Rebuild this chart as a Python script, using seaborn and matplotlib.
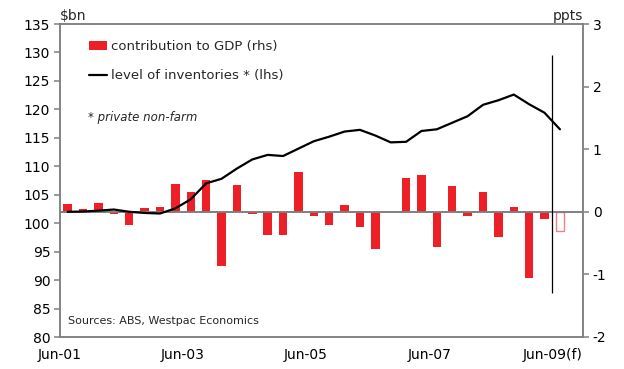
import numpy as np
import pandas as pd
import matplotlib
matplotlib.use("Agg")
import matplotlib.pyplot as plt
from matplotlib.patches import Patch
from matplotlib.lines import Line2D
import seaborn as sns

# Quarterly categories, Jun-01 .. Sep-09 (last slot left empty)
quarters = ["Jun-01", "Sep-01", "Dec-01", "Mar-02", "Jun-02", "Sep-02", "Dec-02", "Mar-03",
            "Jun-03", "Sep-03", "Dec-03", "Mar-04", "Jun-04", "Sep-04", "Dec-04", "Mar-05",
            "Jun-05", "Sep-05", "Dec-05", "Mar-06", "Jun-06", "Sep-06", "Dec-06", "Mar-07",
            "Jun-07", "Sep-07", "Dec-07", "Mar-08", "Jun-08", "Sep-08", "Dec-08", "Mar-09",
            "Jun-09", "Sep-09"]

# Contribution of inventories to GDP growth, ppts (rhs); last value is a forecast
contribution = [0.12, 0.04, 0.145, -0.035, -0.21, 0.06, 0.08, 0.44, 0.31, 0.50, -0.86,
                0.43, -0.04, -0.375, -0.375, 0.64, -0.06, -0.21, 0.11, -0.25, -0.60, 0.0,
                0.535, 0.59, -0.56, 0.42, -0.06, 0.32, -0.41, 0.08, -1.05, -0.11, -0.31]

# Level of private non-farm inventories, $bn (lhs)
inventories = [102.0, 102.05, 102.2, 102.4, 102.0, 101.8, 101.7, 102.6, 104.2, 107.0,
               107.8, 109.6, 111.2, 112.0, 111.8, 113.1, 114.4, 115.2, 116.1, 116.4,
               115.4, 114.2, 114.3, 116.2, 116.5, 117.65, 118.8, 120.8, 121.6, 122.6,
               120.9, 119.4, 116.5]

x_tick_labels = ["Jun-01", "", "Jun-03", "", "Jun-05", "", "Jun-07", "", "Jun-09(f)"]
left_ticks = list(range(80, 136, 5))
right_ticks = list(range(-2, 4))

RED = "#EE2027"
GREY = "#808080"
n_obs = len(contribution)
forecast_idx = n_obs - 1

df = pd.DataFrame({
    "quarter": quarters[:n_obs],
    "pos": np.arange(n_obs),
    "contribution": contribution,
    "inventories": inventories,
})

sns.set_style("white")
plt.rcParams["font.family"] = ["DejaVu Sans"]
plt.rcParams["axes.unicode_minus"] = False

fig = plt.figure(figsize=(6.24, 3.69), dpi=100)
ax = fig.add_axes([60 / 624, 1 - 337 / 369, (583 - 60) / 624, (337 - 24) / 369])
ax2 = ax.twinx()

# bars on the right-hand scale
sns.barplot(data=df, x="quarter", y="contribution", order=quarters, color=RED,
            saturation=1, width=0.55, ax=ax2, linewidth=0)
for p in ax2.patches:
    cx = p.get_x() + p.get_width() / 2
    if abs(cx - forecast_idx) < 0.1:
        p.set_facecolor("white")
        p.set_edgecolor("#F07F82")
        p.set_linewidth(1.0)
ax2.axhline(0, color=GREY, lw=1.4, zorder=3)
# forecast divider
ax2.vlines(forecast_idx - 0.5, -1.3, 2.5, color="black", lw=0.9, zorder=4)

# inventory level on the left-hand scale
sns.lineplot(data=df, x="pos", y="inventories", color="black", lw=1.6, ax=ax)

ax.set_zorder(ax2.get_zorder() + 1)
ax.patch.set_visible(False)

ax.set_ylim(80, 135)
ax.set_yticks(left_ticks)
ax2.set_ylim(-2, 3)
ax2.set_yticks(right_ticks)

ax.set_xlim(-0.5, len(quarters) - 0.5)
ax.set_xticks(np.arange(-0.5, n_obs, 4))
ax.set_xticklabels(x_tick_labels)

for a in (ax, ax2):
    a.set_xlabel("")
    a.set_ylabel("")
    for s in a.spines.values():
        s.set_visible(True)
        s.set_color(GREY)
        s.set_linewidth(1.1)

ax.tick_params(axis="both", direction="out", length=4, width=1.1, color=GREY,
               labelsize=10, labelcolor="black", pad=3)
ax.tick_params(axis="x", pad=4)
ax2.tick_params(axis="y", direction="out", length=4, width=1.1, color=GREY,
                labelsize=10, labelcolor="black", pad=3)

ax.text(0.0, 1.004, r"\$bn", transform=ax.transAxes, ha="left", va="bottom", fontsize=10)
ax.text(1.0, 1.004, "ppts", transform=ax.transAxes, ha="right", va="bottom", fontsize=10)

handles = [Patch(facecolor=RED, edgecolor="none"),
           Line2D([0], [0], color="black", lw=1.6)]
labels = ["contribution to GDP (rhs)", "level of inventories * (lhs)"]
fig.legend(handles, labels, loc="upper left", bbox_to_anchor=(89 / 624, 1 - 40 / 369),
           frameon=False, fontsize=9.5, handlelength=1.35, handleheight=0.65,
           handletextpad=0.35, labelspacing=1.25, borderpad=0, borderaxespad=0)

fig.text(88 / 624, 1 - 117 / 369, "* private non-farm", style="italic", fontsize=8.5,
         ha="left", va="center")
fig.text(68 / 624, 1 - 321 / 369, "Sources: ABS, Westpac Economics", fontsize=8,
         ha="left", va="center")

fig.savefig("out.png", dpi=100)
